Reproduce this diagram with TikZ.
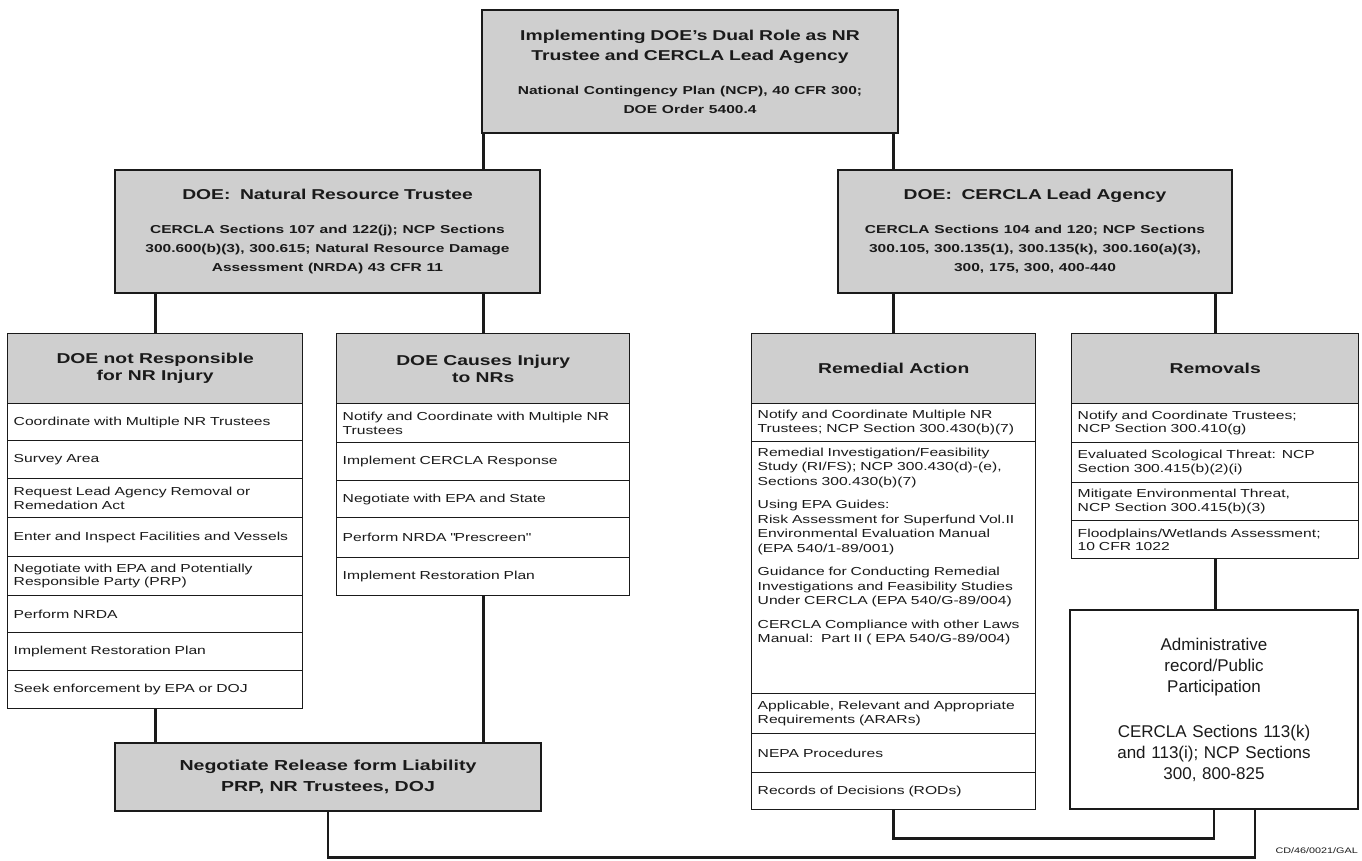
\documentclass[tikz,border=0pt]{standalone}
\usepackage{fontspec}
\setmainfont{Liberation Sans}[FakeStretch=1.35]
\newfontfamily\plainfont{Liberation Sans}
\usepackage{tikz}
\definecolor{ink}{HTML}{1A1A1A}
\definecolor{stipple}{HTML}{CFCFCF}
\newcommand{\subfont}{\fontsize{11.5}{19}\selectfont\bfseries}

\begin{document}
\begin{tikzpicture}[x=1pt,y=-1pt,
  hdr/.style={draw=ink, line width=1.4pt, fill=stipple, text=ink, inner sep=0pt, align=center, font=\fontsize{14.3}{17}\selectfont\bfseries},
  cell/.style={draw=ink, line width=1.4pt, fill=white, text=ink, anchor=north west, inner xsep=6pt, inner ysep=0pt, align=left, text width=#1, font=\fontsize{11.6}{13.5}\selectfont},
  link/.style={draw=ink, line width=2.6pt}]
  \useasboundingbox (0,0) rectangle (1362,860);

  % top of the chart
  \node[hdr, minimum width=416, minimum height=123, text width=400pt] (dual) at (690,71.5) {{\fontsize{14.3}{20}\selectfont Implementing DOE's Dual Role as NR\\Trustee and CERCLA Lead Agency\par}\vspace{15pt}{\subfont National Contingency Plan (NCP), 40 CFR 300;\\DOE Order 5400.4\par}};
  \node[hdr, minimum width=425, minimum height=123, text width=410pt] (trustee) at (327.5,231.5) {DOE:\ \ Natural Resource Trustee\par\vspace{15pt}{\subfont CERCLA Sections 107 and 122(j); NCP Sections\\300.600(b)(3), 300.615; Natural Resource Damage\\Assessment (NRDA) 43 CFR 11\par}};
  \node[hdr, minimum width=394, minimum height=123, text width=385pt] (lead) at (1035,231.5) {DOE:\ \ CERCLA Lead Agency\par\vspace{15pt}{\subfont CERCLA Sections 104 and 120; NCP Sections\\300.105, 300.135(1), 300.135(k), 300.160(a)(3),\\300, 175, 300, 400-440\par}};

  % DOE not responsible
  \node[hdr, anchor=north west, minimum width=295, minimum height=70] (nr0) at (7,333) {DOE not Responsible\\for NR Injury};
  \node[cell=283pt, minimum height=37] (nr1) at (7,403) {Coordinate with Multiple NR Trustees};
  \node[cell=283pt, minimum height=38] (nr2) at (7,440) {Survey Area};
  \node[cell=283pt, minimum height=39] (nr3) at (7,478) {Request Lead Agency Removal or\\Remedation Act};
  \node[cell=283pt, minimum height=39] (nr4) at (7,517) {Enter and Inspect Facilities and Vessels};
  \node[cell=283pt, minimum height=39] (nr5) at (7,556) {Negotiate with EPA and Potentially\\Responsible Party (PRP)};
  \node[cell=283pt, minimum height=37] (nr6) at (7,595) {Perform NRDA};
  \node[cell=283pt, minimum height=38] (nr7) at (7,632) {Implement Restoration Plan};
  \node[cell=283pt, minimum height=38] (nr8) at (7,670) {Seek enforcement by EPA or DOJ};

  % DOE causes injury
  \node[hdr, anchor=north west, minimum width=293, minimum height=70] (ci0) at (336,333) {DOE Causes Injury\\to NRs};
  \node[cell=281pt, minimum height=39] (ci1) at (336,403) {Notify and Coordinate with Multiple NR\\Trustees};
  \node[cell=281pt, minimum height=38] (ci2) at (336,442) {Implement CERCLA Response};
  \node[cell=281pt, minimum height=37] (ci3) at (336,480) {Negotiate with EPA and State};
  \node[cell=281pt, minimum height=40] (ci4) at (336,517) {Perform NRDA \textquotedbl Prescreen\textquotedbl};
  \node[cell=281pt, minimum height=38] (ci5) at (336,557) {Implement Restoration Plan};

  % remedial action
  \node[hdr, anchor=north west, minimum width=284, minimum height=70] (ra0) at (751,333) {Remedial Action};
  \node[cell=272pt, minimum height=38] (ra1) at (751,403) {Notify and Coordinate Multiple NR\\Trustees; NCP Section 300.430(b)(7)};
  \node[cell=272pt, minimum height=252] (ra2) at (751,441) {\parbox[c][240pt][t]{272pt}{\raggedright\fontsize{11.6}{14.5}\selectfont
    Remedial Investigation/Feasibility\\Study (RI/FS); NCP 300.430(d)-(e),\\Sections 300.430(b)(7)\par\vspace{9pt}
    Using EPA Guides:\\Risk Assessment for Superfund Vol.II\\Environmental Evaluation Manual\\(EPA 540/1-89/001)\par\vspace{9pt}
    Guidance for Conducting Remedial\\Investigations and Feasibility Studies\\Under CERCLA (EPA 540/G-89/004)\par\vspace{9pt}
    CERCLA Compliance with other Laws\\Manual:\ \ Part II ( EPA 540/G-89/004)\par}};
  \node[cell=272pt, minimum height=40] (ra3) at (751,693) {Applicable, Relevant and Appropriate\\Requirements (ARARs)};
  \node[cell=272pt, minimum height=39] (ra4) at (751,733) {NEPA Procedures};
  \node[cell=272pt, minimum height=37] (ra5) at (751,772) {Records of Decisions (RODs)};

  % removals
  \node[hdr, anchor=north west, minimum width=287, minimum height=70] (rm0) at (1071,333) {Removals};
  \node[cell=275pt, minimum height=39] (rm1) at (1071,403) {Notify and Coordinate Trustees;\\NCP Section 300.410(g)};
  \node[cell=275pt, minimum height=40] (rm2) at (1071,442) {Evaluated Scological Threat: NCP\\Section 300.415(b)(2)(i)};
  \node[cell=275pt, minimum height=38] (rm3) at (1071,482) {Mitigate Environmental Threat,\\NCP Section 300.415(b)(3)};
  \node[cell=275pt, minimum height=38] (rm4) at (1071,520) {Floodplains/Wetlands Assessment;\\10 CFR 1022};

  % bottom boxes
  \node[draw=ink, line width=1.4pt, fill=white, text=ink, inner sep=0pt, minimum width=288, minimum height=199, text width=270pt, align=center, font={\plainfont\fontsize{17}{21}\selectfont}] (admin) at (1214,709.5) {Administrative\\record/Public\\Participation\\[24pt]CERCLA Sections 113(k)\\and 113(i); NCP Sections\\300, 800-825};
  \node[hdr, minimum width=426, minimum height=68, font=\fontsize{14.5}{21}\selectfont\bfseries] (release) at (328,777) {Negotiate Release form Liability\\PRP, NR Trustees, DOJ};
  \node[text=ink, anchor=east, inner sep=0pt, font=\fontsize{8}{9}\selectfont] (ref) at (1358,851) {CD/46/0021/GAL};

  % connectors
  \draw[link] (dual.south -| ci0.north) -- (trustee.north -| ci0.north);
  \draw[link] (dual.south -| ra0.north) -- (lead.north -| ra0.north);
  \draw[link] (trustee.south -| nr0.north) -- (nr0.north);
  \draw[link] (trustee.south -| ci0.north) -- (ci0.north);
  \draw[link] (lead.south -| ra0.north) -- (ra0.north);
  \draw[link] (lead.south -| rm0.north) -- (rm0.north);
  \draw[link] (nr8.south) -- (release.north -| nr8.south);
  \draw[link] (ci5.south) -- (release.north -| ci5.south);
  \draw[link] (rm4.south) -- (admin.north -| rm4.south);
  \draw[link] (ra5.south) -- ++(0,28) -| (admin.south);
  \draw[link] (release.south) -- ++(0,46) -| ([xshift=41pt]admin.south);
\end{tikzpicture}
\end{document}
